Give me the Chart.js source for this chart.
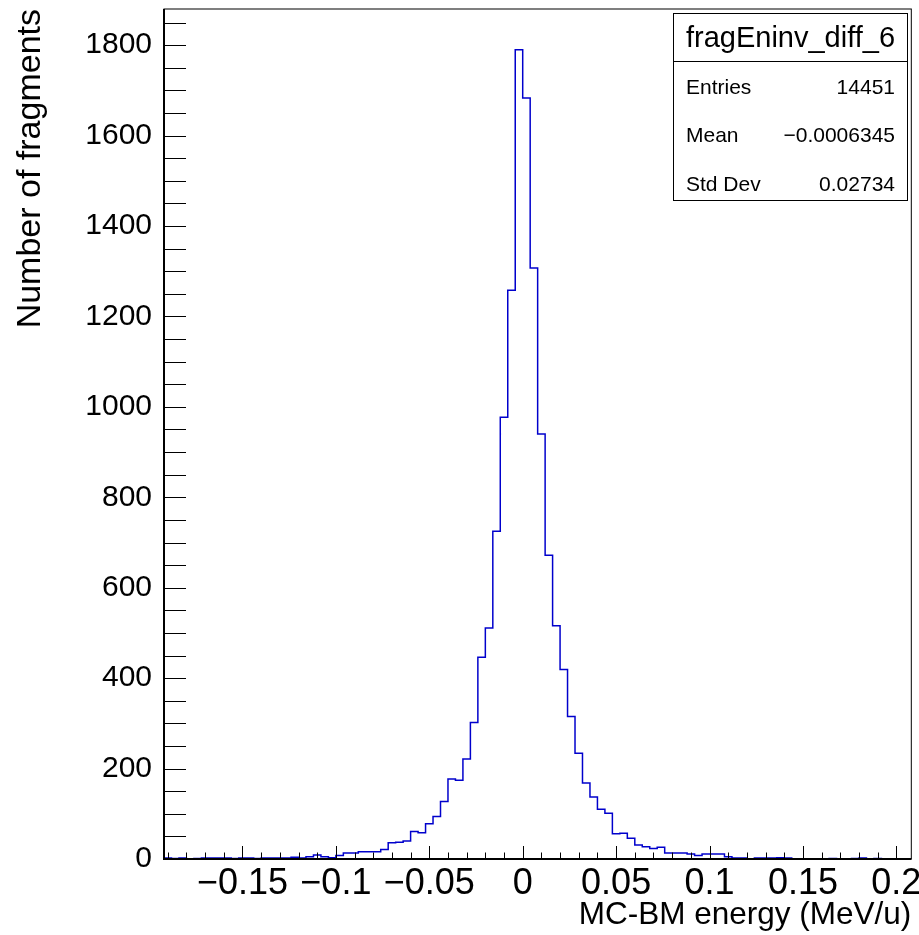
<!DOCTYPE html>
<html>
<head>
<meta charset="utf-8">
<title>fragEninv_diff_6</title>
<script src="https://cdn.jsdelivr.net/npm/chart.js@4.4.1/dist/chart.umd.min.js"></script>
<style>
  body { margin: 0; background: #fff; }
  #wrap { position: relative; width: 919px; height: 935px; }
  #stats {
    position: absolute; left: 673px; top: 13px; width: 233px; height: 186px;
    border: 1px solid #000; background: #fff; color: #000;
    font-family: "Liberation Sans", Arial, sans-serif;
  }
  #stats .head {
    position: absolute; left: 0; right: 0; top: 0; height: 47px; line-height: 47px;
    border-bottom: 1px solid #000; text-align: center; font-size: 29px;
  }
  #stats .row { position: absolute; left: 12px; right: 12px; height: 48px; line-height: 48px; font-size: 21px; }
  #stats .row span:last-child { float: right; }
</style>
</head>
<body>
<div id="wrap">
  <canvas id="histo" width="919" height="935"></canvas>
  <div id="stats">
    <div class="head">fragEninv_diff_6</div>
    <div class="row" style="top:49px"><span>Entries</span><span>14451</span></div>
    <div class="row" style="top:97px"><span>Mean</span><span>&minus;0.0006345</span></div>
    <div class="row" style="top:146px"><span>Std Dev</span><span>0.02734</span></div>
  </div>
</div>
<script>
// histogram definition: 100 bins of 0.004 starting at -0.192
const xLow = -0.192;
const binWidth = 0.004;
const counts = [
  2, 1, 2, 0, 1, 2, 2, 2, 2, 1,
  2, 2, 1, 2, 2, 2, 2, 4, 2, 5,
  9, 5, 3, 8, 13, 13, 16, 16, 16, 21,
  36, 37, 40, 61, 58, 78, 94, 127, 177, 174,
  221, 302, 446, 511, 725, 977, 1258, 1790, 1683, 1307,
  940, 672, 516, 419, 315, 234, 168, 137, 110, 101,
  56, 57, 46, 31, 27, 23, 26, 13, 13, 13,
  11, 8, 11, 11, 11, 5, 2, 2, 0, 2,
  2, 2, 3, 2, 0, 0, 0, 0, 0, 1,
  0, 0, 1, 2, 0, 1, 0, 0, 0, 0
];
const xTicks = [-0.15, -0.1, -0.05, 0, 0.05, 0.1, 0.15, 0.2];
const xTickLabels = ['\u22120.15', '\u22120.1', '\u22120.05', '0', '0.05', '0.1', '0.15', '0.2'];
const yTicks = [0, 200, 400, 600, 800, 1000, 1200, 1400, 1600, 1800];
const yMax = 1880;

const FONT = '"Liberation Sans", Arial, Helvetica, sans-serif';

// step outline: one point per bin low edge + closing point at the upper edge
const points = counts.map((c, i) => ({ x: xLow + i * binWidth, y: c }));
points.push({ x: xLow + counts.length * binWidth, y: counts[counts.length - 1] });

// ROOT-like frame with inward ticks
const rootAxes = {
  id: 'rootAxes',
  afterDatasetsDraw(chart) {
    const { ctx, chartArea: a, scales: { x, y } } = chart;
    ctx.save();
    ctx.strokeStyle = '#000';
    ctx.lineWidth = 1;
    ctx.strokeRect(a.left, a.top, a.right - a.left, a.bottom - a.top);
    ctx.lineWidth = 2;
    ctx.beginPath();
    ctx.moveTo(a.left, a.top);
    ctx.lineTo(a.left, a.bottom);
    ctx.lineTo(a.right, a.bottom);
    ctx.stroke();

    ctx.lineWidth = 1;
    ctx.beginPath();
    for (let k = -19; k <= 20; k++) {
      const px = Math.round(x.getPixelForValue(k / 100)) + 0.5;
      const len = k % 5 === 0 ? 13 : 6.5;
      ctx.moveTo(px, a.bottom);
      ctx.lineTo(px, a.bottom - len);
    }
    for (let k = 1; k * 50 < yMax; k++) {
      const py = Math.round(y.getPixelForValue(k * 50)) + 0.5;
      ctx.moveTo(a.left, py);
      ctx.lineTo(a.left + 22, py);
    }
    ctx.stroke();
    ctx.restore();
  }
};

Chart.defaults.font.family = FONT;
Chart.defaults.color = '#000';

new Chart(document.getElementById('histo'), {
  type: 'line',
  data: {
    datasets: [{
      data: points,
      stepped: 'before',
      borderColor: '#0000cc',
      borderWidth: 1.5,
      pointRadius: 0,
      fill: false
    }]
  },
  options: {
    responsive: false,
    devicePixelRatio: 1,
    animation: false,
    layout: { padding: { top: 9, right: 7.7, left: 0, bottom: 0 } },
    plugins: { legend: { display: false }, tooltip: { enabled: false } },
    scales: {
      x: {
        type: 'linear',
        min: xLow,
        max: xLow + counts.length * binWidth,
        grid: { display: false, drawTicks: false },
        border: { display: false },
        afterBuildTicks: s => { s.ticks = xTicks.map(v => ({ value: v })); },
        afterFit: s => { s.height = 76; s.paddingLeft = 0; s.paddingRight = 0; },
        ticks: {
          autoSkip: false, maxRotation: 0, padding: 3,
          font: { size: 36 },
          callback: (v, i) => xTickLabels[i]
        },
        title: {
          display: true, text: 'MC-BM energy (MeV/u)', align: 'end',
          font: { size: 31.5 }, padding: { top: 0, bottom: 1 }
        }
      },
      y: {
        type: 'linear',
        min: 0,
        max: yMax,
        grid: { display: false, drawTicks: false },
        border: { display: false },
        afterBuildTicks: s => { s.ticks = yTicks.map(v => ({ value: v })); },
        afterFit: s => { s.width = 164; s.paddingTop = 0; s.paddingBottom = 0; },
        ticks: {
          autoSkip: false, padding: 12,
          font: { size: 30 },
          callback: v => String(v)
        },
        title: {
          display: true, text: 'Number of fragments', align: 'end',
          font: { size: 34 }, padding: { top: 10, bottom: 0 }
        }
      }
    }
  },
  plugins: [rootAxes]
});
</script>
</body>
</html>
